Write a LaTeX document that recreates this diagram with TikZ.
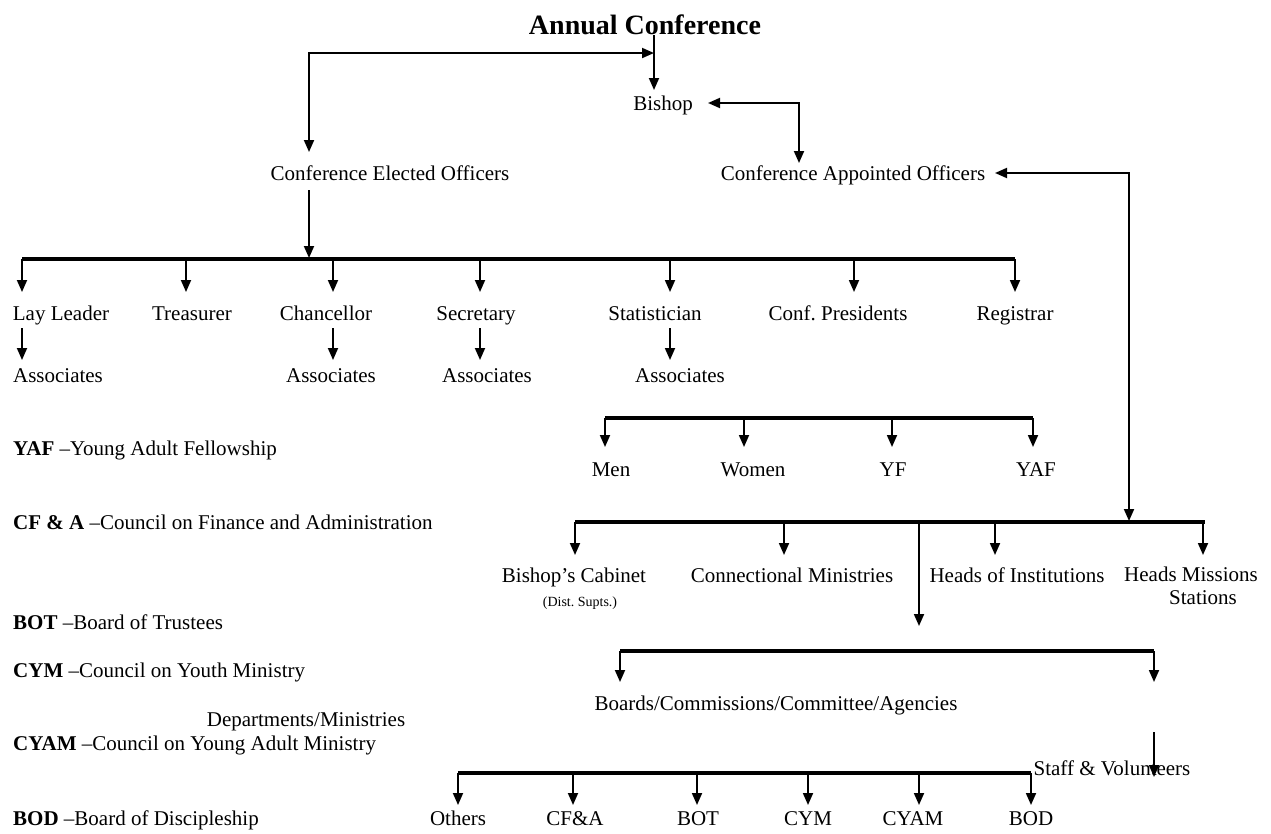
\documentclass[tikz,border=0pt]{standalone}
\usepackage{fontspec}
\setmainfont{Liberation Serif}
\usetikzlibrary{arrows.meta}
\begin{document}
\begin{tikzpicture}[x=1pt,y=-1pt,
  lbl/.style={font=\fontsize{21}{24}\selectfont, inner sep=0pt, text height=14pt, text depth=4pt},
  leg/.style={lbl, anchor=west},
  small/.style={font=\fontsize{14}{16}\selectfont, inner sep=0pt, text height=10pt, text depth=3pt},
  arr/.style={line width=1.8pt, -{Triangle[length=12pt,width=10pt]}},
  darr/.style={line width=1.9pt, {Triangle[length=12pt,width=10pt]}-{Triangle[length=12pt,width=10pt]}},
  bar/.style={line width=3.2pt}]
\useasboundingbox (0,0) rectangle (1271,833);

% ---- top
\node[font=\bfseries\fontsize{28}{32}\selectfont, inner sep=0pt] (title) at (645,25) {Annual Conference};
\node[lbl] (bishop) at (663,105) {Bishop};
\node[lbl] (ceo) at (390,175) {Conference Elected Officers};
\node[lbl] (cao) at (853,175) {Conference Appointed Officers};

\coordinate (tB) at (654,90);
\coordinate (jT) at (654,53);
\coordinate (tCEO) at (309,152);
\coordinate (tBish) at (708,103);
\coordinate (tCAOd) at (799,163);
\coordinate (tCAO) at (995,173);
\coordinate (tRight) at (1129,521);

\draw[arr] (title.south -| tB) -- (tB);
\draw[darr] (tCEO) |- (jT);
\draw[darr] (tBish) -| (tCAOd);
\draw[darr] (tCAO) -| (tRight);

% ---- elected officers
\coordinate (b1L) at (22,259);
\coordinate (b1R) at (1015,259);
\coordinate (tE) at (309,258);
\draw[arr] (tE |- ceo.south) ++(0,6) -- (tE);
\draw[bar] (b1L) -- (b1R);

\node[lbl] (lay) at (61,315) {Lay Leader};
\node[lbl] (treas) at (192,315) {Treasurer};
\node[lbl] (chanc) at (326,315) {Chancellor};
\node[lbl] (secr) at (476,315) {Secretary};
\node[lbl] (stat) at (655,315) {Statistician};
\node[lbl] (confp) at (838,315) {Conf.\ Presidents};
\node[lbl] (regis) at (1015,315) {Registrar};

\foreach \x/\n in {22/a,186/b,333/c,480/d,670/e,854/f,1015/g}{
  \coordinate (d1\n) at (\x,292);
  \draw[arr] (d1\n |- b1L) -- (d1\n);
}

\node[lbl] (as1) at (58,377) {Associates};
\node[lbl] (as2) at (331,377) {Associates};
\node[lbl] (as3) at (487,377) {Associates};
\node[lbl] (as4) at (680,377) {Associates};

\foreach \x/\n in {22/a,333/c,480/d,670/e}{
  \coordinate (s\n) at (\x,360);
  \draw[arr] (\x,328) -- (s\n);
}

% ---- fellowships
\coordinate (b2L) at (605,418);
\coordinate (b2R) at (1033,418);
\draw[bar] (b2L) -- (b2R);
\foreach \x/\n in {605/a,744/b,892/c,1033/d}{
  \coordinate (d2\n) at (\x,447);
  \draw[arr] (d2\n |- b2L) -- (d2\n);
}
\node[lbl] (men) at (611,471) {Men};
\node[lbl] (women) at (753,471) {Women};
\node[lbl] (yf) at (893,471) {YF};
\node[lbl] (yaf) at (1036,471) {YAF};

% ---- appointed officers
\coordinate (b3L) at (575,522);
\coordinate (b3R) at (1205,522);
\draw[bar] (b3L) -- (b3R);
\foreach \x/\n in {575/a,784/b,995/c,1203/d}{
  \coordinate (d3\n) at (\x,555);
  \draw[arr] (d3\n |- b3L) -- (d3\n);
}
\coordinate (d3m) at (919,626);
\draw[arr] (d3m |- b3L) -- (d3m);

\node[lbl] (cab) at (574,577) {Bishop’s Cabinet};
\node[small] (dist) at (580,603) {(Dist.\ Supts.)};
\node[lbl] (conn) at (792,577) {Connectional Ministries};
\node[lbl] (heads) at (1017,577) {Heads of Institutions};
\node[lbl] (hms) at (1191,576) {Heads Missions};
\node[lbl] (stn) at (1203,599) {Stations};

% ---- boards
\coordinate (b4L) at (620,651);
\coordinate (b4R) at (1154,651);
\draw[bar] (b4L) -- (b4R);
\coordinate (d4a) at (620,682);
\coordinate (d4b) at (1154,682);
\draw[arr] (d4a |- b4L) -- (d4a);
\draw[arr] (d4b |- b4L) -- (d4b);
\node[lbl] (boards) at (776,705) {Boards/Commissions/Committee/Agencies};

\node[lbl] (staff) at (1112,770) {Staff \& Volunteers};
\coordinate (tS) at (1154,777);
\draw[arr] (1154,732) -- (tS);

% ---- bottom
\coordinate (b5L) at (458,773);
\coordinate (b5R) at (1031,773);
\draw[bar] (b5L) -- (b5R);
\foreach \x/\n in {458/a,573/b,697/c,808/d,919/e,1031/f}{
  \coordinate (d5\n) at (\x,805);
  \draw[arr] (d5\n |- b5L) -- (d5\n);
}
\node[lbl] (oth) at (458,820) {Others};
\node[lbl] (cfa) at (575,820) {CF\&A};
\node[lbl] (bot) at (698,820) {BOT};
\node[lbl] (cym) at (808,820) {CYM};
\node[lbl] (cyam) at (913,820) {CYAM};
\node[lbl] (bod) at (1031,820) {BOD};

% ---- legend
\node[leg] (lyaf) at (13,450) {\textbf{YAF} –Young Adult Fellowship};
\node[leg] (lcfa) at (13,524) {\textbf{CF \& A} –Council on Finance and Administration};
\node[leg] (lbot) at (13,624) {\textbf{BOT} –Board of Trustees};
\node[leg] (lcym) at (13,672) {\textbf{CYM} –Council on Youth Ministry};
\node[lbl] (dept) at (306,721) {Departments/Ministries};
\node[leg] (lcyam) at (13,745) {\textbf{CYAM} –Council on Young Adult Ministry};
\node[leg] (lbod) at (13,820) {\textbf{BOD} –Board of Discipleship};
\end{tikzpicture}
\end{document}
